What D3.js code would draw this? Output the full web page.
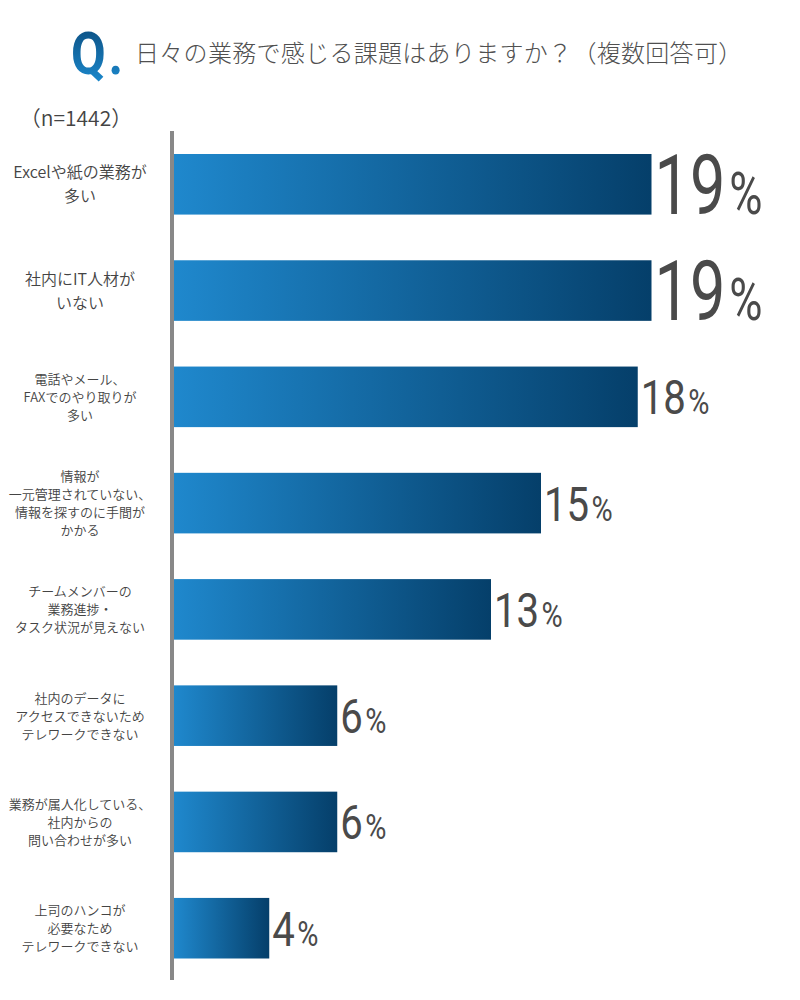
<!DOCTYPE html>
<html><head><meta charset="utf-8">
<script src="https://cdn.jsdelivr.net/npm/d3@7"></script>
<style>body{margin:0;background:#fff} svg{display:block}</style>
</head><body><div id="chart"></div>
<script>
const title = "日々の業務で感じる課題はありますか？（複数回答可）";
const sampleLabel = "（n=1442）";
const categories = [
  "Excelや紙の業務が\n多い",
  "社内にIT人材が\nいない",
  "電話やメール、\nFAXでのやり取りが\n多い",
  "情報が\n一元管理されていない、\n情報を探すのに手間が\nかかる",
  "チームメンバーの\n業務進捗・\nタスク状況が見えない",
  "社内のデータに\nアクセスできないため\nテレワークできない",
  "業務が属人化している、\n社内からの\n問い合わせが多い",
  "上司のハンコが\n必要なため\nテレワークできない"
];
const values = [19.1, 19.1, 18.55, 14.68, 12.68, 6.53, 6.53, 3.81];
const valueLabels = ["19", "19", "18", "15", "13", "6", "6", "4"];

const W = 800, H = 1000;
const svg = d3.select("#chart").append("svg").attr("width", W).attr("height", H);
const defs = svg.append("defs");

const barGrad = defs.append("linearGradient").attr("id", "barGrad")
  .attr("x1", "0").attr("x2", "1").attr("y1", "0").attr("y2", "0");
barGrad.append("stop").attr("offset", "0").attr("stop-color", "#1f88cd");
barGrad.append("stop").attr("offset", "1").attr("stop-color", "#053f6a");

const qGrad = defs.append("linearGradient").attr("id", "qGrad")
  .attr("x1", "0").attr("x2", "0").attr("y1", "0").attr("y2", "1");
qGrad.append("stop").attr("offset", "0").attr("stop-color", "#0b4a7a");
qGrad.append("stop").attr("offset", "1").attr("stop-color", "#1c8dd3");

const x = d3.scaleLinear().domain([0, 20]).range([174, 674]);
const y = d3.scaleBand().domain(categories).range([154, 958.5]).paddingInner(0.43).paddingOuter(0);

// Title
const q = svg.append("text").attr("transform", "translate(71,74) scale(0.9,1.05)")
  .attr("font-family", "Roboto, sans-serif").attr("font-weight", 700)
  .attr("font-size", 56).attr("fill", "url(#qGrad)");
q.append("tspan").text("Q");
q.append("tspan").attr("dx", 3).text(".");
svg.append("text").attr("x", 135).attr("y", 62)
  .attr("font-family", "'Noto Sans CJK JP', sans-serif").attr("font-size", 24)
  .attr("font-weight", 300).attr("letter-spacing", 0.3)
  .attr("fill", "#505050").text(title);

svg.append("text").attr("x", 76).attr("y", 126).attr("text-anchor", "middle")
  .attr("font-family", "'Noto Sans CJK JP', sans-serif").attr("font-size", 21)
  .attr("font-weight", 350)
  .attr("fill", "#444").text(sampleLabel);

// bars
svg.selectAll("rect.bar").data(categories).join("rect").attr("class", "bar")
  .attr("x", x(0)).attr("y", d => y(d))
  .attr("width", (d, i) => x(values[i]) - x(0))
  .attr("height", y.bandwidth())
  .attr("fill", "url(#barGrad)");

// axis line
svg.append("line").attr("x1", 172).attr("x2", 172).attr("y1", 131).attr("y2", 980)
  .attr("stroke", "#888").attr("stroke-width", 4);

// category labels
const maxV = d3.max(values);
categories.forEach((c, i) => {
  const lines = c.split("\n");
  const fs = lines.length <= 2 ? 16 : 13;
  const lh = lines.length <= 2 ? 24 : 18;
  const cy = y(c) + y.bandwidth() / 2;
  const t = svg.append("text").attr("text-anchor", "middle")
    .attr("font-family", "'Noto Sans CJK JP', sans-serif").attr("font-size", fs)
    .attr("font-weight", 350)
    .attr("fill", "#444");
  lines.forEach((ln, j) => {
    const lc = cy + (j - (lines.length - 1) / 2) * lh;
    t.append("tspan").attr("x", 80).attr("y", lc + 0.38 * fs).text(ln);
  });

  // value labels
  const big = values[i] === maxV;
  const vfs = big ? 83 : 49;
  const sx = big ? 0.76 : 0.82;
  const vt = svg.append("text")
    .attr("transform", `translate(${x(values[i]) + 3},${cy + 0.355 * vfs}) scale(${sx},1)`)
    .attr("font-family", "Roboto, sans-serif").attr("font-weight", 400)
    .attr("fill", "#4a4a4a").attr("font-size", vfs);
  vt.append("tspan").text(valueLabels[i]);
  vt.append("tspan").attr("dx", vfs * 0.06).attr("font-size", vfs * 0.72).text("%");
});
</script>
</body></html>
